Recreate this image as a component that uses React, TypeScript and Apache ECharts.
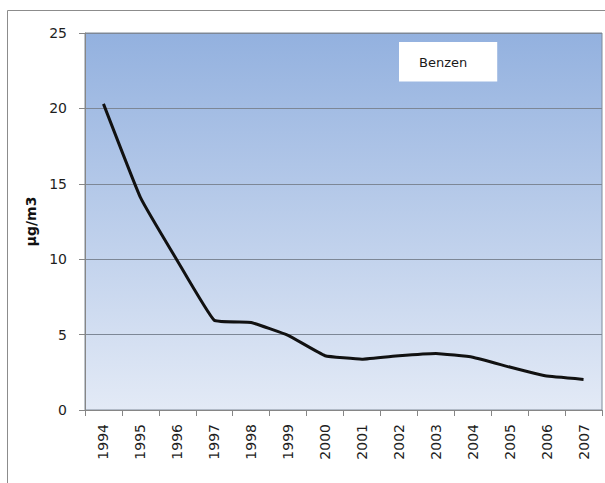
import React, { useEffect, useRef } from "react";
import * as echarts from "echarts";

const years = ["1994", "1995", "1996", "1997", "1998", "1999", "2000", "2001", "2002", "2003", "2004", "2005", "2006", "2007"];
const benzen = [20.3, 14.1, 9.9, 5.95, 5.8, 4.95, 3.6, 3.37, 3.6, 3.75, 3.5, 2.85, 2.25, 2.03];
const yTicks = { min: 0, max: 25, interval: 5 };
const seriesName = "Benzen";
const yAxisTitle = "µg/m3";

export default function App() {
  const ref = useRef<HTMLDivElement>(null);
  useEffect(() => {
    if (!ref.current) return;
    const chart = echarts.init(ref.current, null, { renderer: "svg" });
    const font = "DejaVu Sans";
    chart.setOption({
      animation: false,
      backgroundColor: "#ffffff",
      textStyle: { fontFamily: font },
      graphic: [
        {
          type: "rect",
          shape: { x: 7.5, y: 10.5, width: 610, height: 490 },
          style: { fill: "none", stroke: "#8c8c8c", lineWidth: 1 },
          z: 0,
        },
      ],
      legend: {
        data: [{ name: seriesName, icon: "none" }],
        left: 399,
        top: 42,
        itemWidth: 0,
        itemGap: 0,
        backgroundColor: "#ffffff",
        padding: [13, 30, 13, 15],
        textStyle: { fontFamily: font, fontSize: 13, color: "#1a1a1a" },
        selectedMode: false,
      },
      grid: {
        left: 85,
        top: 33,
        right: 3,
        bottom: 73,
        show: true,
        borderColor: "#7f8a99",
        borderWidth: 1,
        backgroundColor: new echarts.graphic.LinearGradient(0, 0, 0, 1, [
          { offset: 0, color: "#93b1df" },
          { offset: 1, color: "#e3eaf6" },
        ]),
      },
      xAxis: {
        type: "category",
        data: years,
        boundaryGap: true,
        axisLine: { show: true, lineStyle: { color: "#868686", width: 1 } },
        axisTick: { show: true, length: 6, lineStyle: { color: "#868686" } },
        axisLabel: {
          rotate: 90,
          margin: 14,
          fontSize: 14,
          color: "#1e1e1e",
          fontFamily: font,
          interval: 0,
        },
        splitLine: { show: false },
      },
      yAxis: {
        type: "value",
        min: yTicks.min,
        max: yTicks.max,
        interval: yTicks.interval,
        name: yAxisTitle,
        nameLocation: "middle",
        nameGap: 46,
        nameRotate: 90,
        nameTextStyle: { fontWeight: "bold", fontSize: 14, color: "#111111", fontFamily: font },
        axisLine: { show: true, lineStyle: { color: "#868686", width: 1 } },
        axisTick: { show: true, length: 6, lineStyle: { color: "#868686" } },
        axisLabel: { margin: 18, fontSize: 14, color: "#1e1e1e", fontFamily: font },
        splitLine: { show: true, lineStyle: { color: "#7d8796", width: 1 } },
      },
      series: [
        {
          name: seriesName,
          type: "line",
          data: benzen,
          symbol: "none",
          smooth: 0.1,
          lineStyle: { color: "#111111", width: 3 },
          itemStyle: { color: "#111111" },
        },
      ],
    });
    return () => chart.dispose();
  }, []);
  return (
    <div
      ref={ref}
      style={{ position: "absolute", left: 0, top: 0, width: 605, height: 483 }}
    />
  );
}
